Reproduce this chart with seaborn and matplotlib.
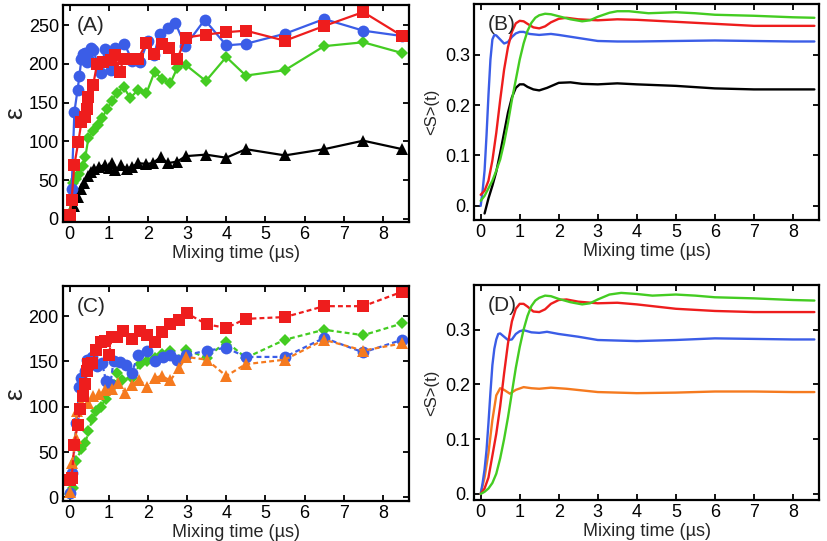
import numpy as np
import pandas as pd
import matplotlib
matplotlib.use("Agg")
import matplotlib.pyplot as plt
import seaborn as sns

# === Dados
# (A) epsilon x tempo de mistura, linhas cheias
blue_a_x = [0.05, 0.12, 0.2, 0.25, 0.3, 0.35, 0.4, 0.45, 0.5, 0.55, 0.6, 0.8, 0.9, 1.05, 1.15, 1.4,
            1.6, 1.8, 2.0, 2.15, 2.3, 2.5, 2.7, 2.95, 3.45, 4.0, 4.5, 5.5, 6.5, 7.5, 8.5]
blue_a_y = [38, 138, 166, 185, 207, 213, 214, 202, 205, 220, 218, 188, 219, 192, 220, 226,
            204, 203, 230, 211, 239, 247, 253, 223, 257, 224, 226, 239, 258, 243, 236]
red_a_x = [0.0, 0.05, 0.12, 0.22, 0.3, 0.38, 0.43, 0.48, 0.6, 0.7, 0.85, 1.05, 1.15, 1.28, 1.38,
           1.55, 1.75, 1.96, 2.15, 2.35, 2.55, 2.75, 2.96, 3.48, 4.0, 4.5, 5.5, 6.5, 7.5, 8.5]
red_a_y = [5, 25, 70, 99, 125, 132, 142, 157, 173, 200, 203, 205, 211, 190, 207,
           207, 207, 227, 213, 226, 221, 206, 234, 238, 241, 243, 230, 249, 267, 236]
green_a_x = [0.0, 0.08, 0.17, 0.25, 0.33, 0.4, 0.48, 0.6, 0.73, 0.83, 0.95, 1.08, 1.2, 1.38, 1.55,
             1.75, 1.96, 2.17, 2.37, 2.57, 2.75, 2.96, 3.48, 4.0, 4.5, 5.5, 6.5, 7.5, 8.5]
green_a_y = [8, 47, 52, 58, 68, 80, 105, 113, 121, 130, 142, 152, 163, 170, 156,
             167, 162, 190, 180, 175, 195, 199, 178, 209, 185, 192, 223, 228, 214]
black_a_x = [0.0, 0.1, 0.2, 0.3, 0.37, 0.46, 0.54, 0.62, 0.75, 0.9, 1.0, 1.08, 1.17, 1.32, 1.46,
             1.58, 1.75, 1.96, 2.12, 2.33, 2.5, 2.75, 2.96, 3.48, 4.0, 4.5, 5.5, 6.5, 7.5, 8.5]
black_a_y = [6, 17, 28, 38, 46, 55, 60, 65, 67, 70, 66, 72, 63, 69, 65,
             67, 72, 71, 72, 80, 72, 74, 81, 83, 79, 90, 82, 90, 101, 90]

# (B) <S>(t)
blue_b_x = [0.0, 0.05, 0.1, 0.15, 0.2, 0.25, 0.3, 0.35, 0.4, 0.5, 0.6, 0.7, 0.8, 0.9, 1.0,
            1.1, 1.25, 1.5, 1.8, 2.0, 2.5, 3.0, 3.5, 4.0, 5.0, 6.0, 7.0, 8.0, 8.55]
blue_b_y = [0.0, 0.03, 0.07, 0.14, 0.22, 0.29, 0.33, 0.339, 0.338, 0.33, 0.322, 0.325, 0.335, 0.342, 0.345,
            0.345, 0.341, 0.339, 0.341, 0.339, 0.333, 0.327, 0.326, 0.326, 0.327, 0.328, 0.327, 0.326, 0.326]
red_b_x = [0.0, 0.1, 0.2, 0.3, 0.4, 0.5, 0.6, 0.7, 0.8, 0.9, 1.0, 1.1, 1.2, 1.35,
           1.5, 1.65, 1.8, 2.0, 2.2, 2.5, 3.0, 3.5, 4.0, 5.0, 6.0, 7.0, 8.0, 8.55]
red_b_y = [0.022, 0.03, 0.05, 0.09, 0.145, 0.21, 0.27, 0.315, 0.345, 0.362, 0.367, 0.366, 0.361, 0.354,
           0.352, 0.356, 0.364, 0.371, 0.373, 0.37, 0.368, 0.37, 0.369, 0.365, 0.361, 0.357, 0.357, 0.357]
green_b_x = [0.0, 0.1, 0.2, 0.3, 0.4, 0.5, 0.6, 0.7, 0.8, 0.9, 1.0, 1.1, 1.2, 1.3, 1.4, 1.5, 1.65,
             1.8, 2.0, 2.3, 2.6, 2.8, 3.0, 3.3, 3.5, 3.8, 4.3, 5.0, 5.5, 6.0, 7.0, 8.0, 8.55]
green_b_y = [0.01, 0.02, 0.035, 0.05, 0.07, 0.092, 0.125, 0.165, 0.21, 0.25, 0.29, 0.322, 0.347, 0.363,
             0.373, 0.378, 0.381, 0.38, 0.376, 0.37, 0.366, 0.368, 0.375, 0.383, 0.386, 0.386, 0.382,
             0.384, 0.382, 0.379, 0.377, 0.374, 0.373]
black_b_x = [0.1, 0.2, 0.3, 0.4, 0.5, 0.6, 0.7, 0.8, 0.9, 1.0, 1.1, 1.2, 1.35, 1.5, 1.7,
             2.0, 2.3, 2.6, 3.0, 3.5, 4.0, 5.0, 6.0, 7.0, 8.0, 8.55]
black_b_y = [-0.015, 0.015, 0.04, 0.068, 0.105, 0.145, 0.185, 0.215, 0.234, 0.241, 0.241, 0.236, 0.231,
             0.229, 0.234, 0.244, 0.245, 0.242, 0.241, 0.243, 0.241, 0.238, 0.233, 0.231, 0.231, 0.231]

# (C) epsilon, linhas tracejadas
red_c_x = [0.0, 0.05, 0.12, 0.2, 0.27, 0.33, 0.38, 0.43, 0.48, 0.58, 0.67, 0.8, 0.9, 1.0, 1.08, 1.2,
           1.35, 1.58, 1.8, 1.97, 2.17, 2.35, 2.57, 2.8, 3.0, 3.5, 4.0, 4.5, 5.5, 6.5, 7.5, 8.5]
red_c_y = [19, 21, 58, 80, 98, 112, 125, 140, 147, 148, 163, 172, 173, 157, 177, 177,
           184, 175, 184, 179, 172, 183, 191, 196, 203, 191, 187, 197, 199, 211, 211, 227]
blue_c_x = [0.0, 0.07, 0.17, 0.25, 0.3, 0.38, 0.44, 0.58, 0.7, 0.83, 0.93, 1.04, 1.12, 1.29, 1.43,
            1.58, 1.75, 1.97, 2.17, 2.38, 2.57, 2.75, 2.98, 3.5, 4.0, 4.5, 5.5, 6.5, 7.5, 8.5]
blue_c_y = [5, 27, 82, 122, 132, 140, 152, 155, 145, 148, 128, 125, 150, 149, 146,
            137, 157, 161, 150, 155, 157, 152, 157, 162, 165, 155, 155, 176, 160, 174]
green_c_x = [0.0, 0.08, 0.17, 0.29, 0.4, 0.48, 0.58, 0.67, 0.8, 0.92, 1.12, 1.21, 1.33, 1.58,
             1.8, 1.97, 2.17, 2.35, 2.57, 2.8, 2.98, 3.5, 4.0, 4.5, 5.5, 6.5, 7.5, 8.5]
green_c_y = [4, 10, 40, 53, 60, 73, 86, 95, 100, 109, 124, 137, 130, 132,
             147, 151, 154, 158, 161, 152, 163, 154, 172, 154, 174, 185, 179, 192]
orange_c_x = [0.0, 0.07, 0.15, 0.18, 0.3, 0.4, 0.48, 0.6, 0.75, 0.9, 1.08, 1.23, 1.42, 1.58,
              1.77, 1.98, 2.17, 2.35, 2.57, 2.8, 2.98, 3.5, 4.0, 4.5, 5.5, 6.5, 7.5, 8.5]
orange_c_y = [6, 38, 66, 95, 104, 112, 104, 112, 114, 118, 120, 126, 115, 124,
              130, 122, 132, 134, 129, 143, 155, 152, 134, 147, 152, 174, 162, 170]

# (D) <S>(t)
blue_d_x = [0.0, 0.05, 0.1, 0.15, 0.2, 0.25, 0.3, 0.35, 0.4, 0.45, 0.5, 0.6, 0.7, 0.8, 0.9, 1.0,
            1.1, 1.3, 1.5, 1.7, 2.0, 2.5, 3.0, 3.5, 4.0, 5.0, 6.0, 7.0, 8.0, 8.55]
blue_d_y = [0.0, 0.02, 0.045, 0.08, 0.13, 0.185, 0.235, 0.265, 0.282, 0.292, 0.293, 0.287, 0.281, 0.282,
            0.292, 0.297, 0.299, 0.295, 0.294, 0.296, 0.292, 0.287, 0.281, 0.28, 0.279, 0.281, 0.284,
            0.283, 0.282, 0.282]
red_d_x = [0.0, 0.1, 0.2, 0.3, 0.4, 0.5, 0.6, 0.7, 0.8, 0.9, 1.0, 1.1, 1.2, 1.35,
           1.5, 1.65, 1.8, 2.0, 2.2, 2.5, 3.0, 3.5, 4.0, 5.0, 6.0, 7.0, 8.0, 8.55]
red_d_y = [0.0, 0.01, 0.03, 0.07, 0.11, 0.16, 0.22, 0.275, 0.315, 0.338, 0.347, 0.347, 0.342, 0.333,
           0.332, 0.337, 0.347, 0.354, 0.355, 0.351, 0.348, 0.349, 0.346, 0.338, 0.334, 0.332, 0.332, 0.332]
green_d_x = [0.0, 0.1, 0.2, 0.3, 0.4, 0.5, 0.6, 0.7, 0.8, 0.9, 1.0, 1.1, 1.2, 1.3, 1.4, 1.5, 1.65,
             1.8, 2.0, 2.3, 2.6, 2.8, 3.0, 3.3, 3.6, 4.0, 4.4, 5.0, 5.5, 6.0, 7.0, 8.0, 8.55]
green_d_y = [0.0, 0.004, 0.01, 0.02, 0.037, 0.065, 0.1, 0.14, 0.185, 0.23, 0.268, 0.3, 0.325, 0.343,
             0.353, 0.358, 0.362, 0.361, 0.356, 0.35, 0.346, 0.348, 0.355, 0.364, 0.367, 0.365, 0.362,
             0.364, 0.362, 0.359, 0.357, 0.354, 0.353]
orange_d_x = [0.0, 0.1, 0.2, 0.3, 0.4, 0.5, 0.6, 0.75, 0.9, 1.1, 1.3, 1.5, 1.8, 2.2,
              3.0, 3.5, 4.0, 5.0, 6.0, 7.0, 8.0, 8.55]
orange_d_y = [0.0, 0.03, 0.075, 0.135, 0.18, 0.193, 0.19, 0.183, 0.19, 0.195, 0.193, 0.192, 0.194, 0.192,
              0.186, 0.185, 0.184, 0.185, 0.187, 0.187, 0.186, 0.186]

x_ticks = [0, 1, 2, 3, 4, 5, 6, 7, 8]
eps_ticks_a = [0, 50, 100, 150, 200, 250]
eps_ticks_c = [0, 50, 100, 150, 200]
s_ticks = [0.0, 0.1, 0.2, 0.3]
s_tick_labels = ["0.", "0.1", "0.2", "0.3"]

AZUL = "#3b5de7"
VERMELHO = "#ee1d1d"
VERDE = "#44cc22"
PRETO = "#000000"
LARANJA = "#f57a1f"

# === Estilo
sns.set_style("ticks")
plt.rcParams['font.family'] = ['Liberation Sans', 'DejaVu Sans']
plt.rcParams.update({
    'xtick.direction': 'in', 'ytick.direction': 'in',
    'xtick.top': True, 'ytick.right': True,
    'xtick.major.size': 4, 'ytick.major.size': 4,
    'xtick.major.width': 1.3, 'ytick.major.width': 1.3,
    'axes.linewidth': 1.6,
    'xtick.labelsize': 13, 'ytick.labelsize': 13,
    'axes.edgecolor': 'black',
    'xtick.color': 'black', 'ytick.color': 'black',
})

fig = plt.figure(figsize=(8.27, 5.41), dpi=100)
ax_a = fig.add_axes([0.0762, 0.5896, 0.4184, 0.401])
ax_b = fig.add_axes([0.5732, 0.5933, 0.4172, 0.399])
ax_c = fig.add_axes([0.0762, 0.0739, 0.4184, 0.397])
ax_d = fig.add_axes([0.5732, 0.0758, 0.4172, 0.397])


def serie_marcada(ax, x, y, cor, marcador, tam, ls='-'):
    df = pd.DataFrame({'t': x, 'v': y})
    sns.lineplot(data=df, x='t', y='v', ax=ax, color=cor, marker=marcador, markersize=tam,
                 markeredgewidth=0, linewidth=1.6, linestyle=ls, sort=False, estimator=None)


def serie_linha(ax, x, y, cor):
    df = pd.DataFrame({'t': x, 'v': y})
    sns.lineplot(data=df, x='t', y='v', ax=ax, color=cor, linewidth=1.7, sort=False, estimator=None)


# (A)
serie_marcada(ax_a, black_a_x, black_a_y, PRETO, '^', 8.5)
serie_marcada(ax_a, green_a_x, green_a_y, VERDE, 'D', 6)
serie_marcada(ax_a, blue_a_x, blue_a_y, AZUL, 'o', 8.5)
serie_marcada(ax_a, red_a_x, red_a_y, VERMELHO, 's', 8)

# (B)
serie_linha(ax_b, black_b_x, black_b_y, PRETO)
serie_linha(ax_b, blue_b_x, blue_b_y, AZUL)
serie_linha(ax_b, red_b_x, red_b_y, VERMELHO)
serie_linha(ax_b, green_b_x, green_b_y, VERDE)

# (C)
tracejado = (0, (2.2, 1.4))
serie_marcada(ax_c, green_c_x, green_c_y, VERDE, 'D', 6, tracejado)
serie_marcada(ax_c, blue_c_x, blue_c_y, AZUL, 'o', 8.5, tracejado)
serie_marcada(ax_c, orange_c_x, orange_c_y, LARANJA, '^', 8.5, tracejado)
serie_marcada(ax_c, red_c_x, red_c_y, VERMELHO, 's', 8, tracejado)

# (D)
serie_linha(ax_d, orange_d_x, orange_d_y, LARANJA)
serie_linha(ax_d, blue_d_x, blue_d_y, AZUL)
serie_linha(ax_d, red_d_x, red_d_y, VERMELHO)
serie_linha(ax_d, green_d_x, green_d_y, VERDE)

# === Eixos
for ax in (ax_a, ax_b, ax_c, ax_d):
    ax.set_xlim(-0.17, 8.67)
    ax.set_xticks(x_ticks)
    ax.set_xlabel("Mixing time (\u00b5s)", fontsize=13, labelpad=1)
    ax.tick_params(pad=3)

ax_a.set_ylim(-4, 276)
ax_a.set_yticks(eps_ticks_a)
ax_c.set_ylim(-4, 233)
ax_c.set_yticks(eps_ticks_c)
for ax in (ax_a, ax_c):
    ax.set_ylabel("\u03b5", fontsize=19, labelpad=1)

ax_b.set_ylim(-0.028, 0.4)
ax_d.set_ylim(-0.011, 0.381)
for ax in (ax_b, ax_d):
    ax.set_yticks(s_ticks)
    ax.set_yticklabels(s_tick_labels)
    ax.set_ylabel("<S>(t)", fontsize=12, labelpad=4)

for ax, rotulo in zip((ax_a, ax_b, ax_c, ax_d), ("(A)", "(B)", "(C)", "(D)")):
    ax.text(0.04, 0.95, rotulo, transform=ax.transAxes, fontsize=15, va='top', ha='left')

fig.savefig("out.png", dpi=100)
